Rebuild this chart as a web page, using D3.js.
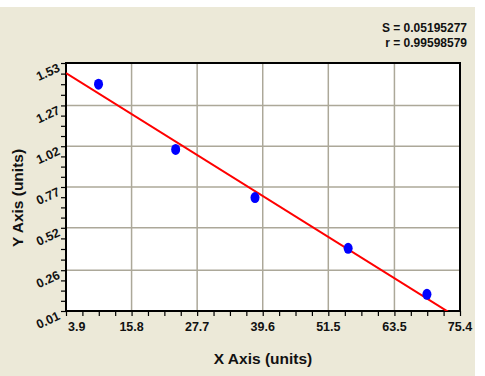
<!DOCTYPE html>
<html>
<head>
<meta charset="utf-8">
<script src="https://cdn.jsdelivr.net/npm/d3@7"></script>
<style>
  body { margin: 0; background: #fff; }
  svg { display: block; font-family: "Liberation Sans", Arial, sans-serif; }
</style>
</head>
<body>
<svg id="chart" width="485" height="376"></svg>
<script>
// values
const xValues = [9.8, 23.8, 38.2, 55.1, 69.4];
const yValues = [1.40, 1.00, 0.705, 0.394, 0.112];
const xTicks = [3.9, 15.8, 27.7, 39.6, 51.5, 63.5, 75.4];
const yTicks = [0.01, 0.26, 0.52, 0.77, 1.02, 1.27, 1.53];
const statLines = ['S = 0.05195277', 'r = 0.99598579'];

const width = 485;
const height = 376;
const plot = { left: 66, right: 460, top: 63, bottom: 311 };

const svg = d3.select('#chart');

// beige panel
svg.append('rect')
    .attr('x', 0).attr('y', 7)
    .attr('width', 475).attr('height', height - 7)
    .attr('fill', '#ece9d8');

const xScale = d3.scaleLinear().domain([3.9, 75.4]).range([plot.left, plot.right]);
const yScale = d3.scaleLinear().domain([0.01, 1.53]).range([plot.bottom, plot.top]);

svg.append('rect')
    .attr('x', plot.left).attr('y', plot.top)
    .attr('width', plot.right - plot.left).attr('height', plot.bottom - plot.top)
    .attr('fill', '#fff');

// gridlines
const grid = svg.append('g').attr('stroke', '#aca899').attr('stroke-width', 1.5);
grid.selectAll('line.v')
    .data(xTicks.slice(1, -1))
    .join('line')
    .attr('x1', (d) => xScale(d)).attr('x2', (d) => xScale(d))
    .attr('y1', plot.top).attr('y2', plot.bottom);
grid.selectAll('line.h')
    .data(yTicks.slice(1, -1))
    .join('line')
    .attr('y1', (d) => yScale(d)).attr('y2', (d) => yScale(d))
    .attr('x1', plot.left).attr('x2', plot.right);

// minor + major ticks (4 subdivisions between labels)
function subTicks(ticks) {
    const out = [];
    for (let i = 0; i < ticks.length - 1; i++) {
        for (let k = 0; k < 4; k++) out.push(ticks[i] + (ticks[i + 1] - ticks[i]) * k / 4);
    }
    out.push(ticks[ticks.length - 1]);
    return out;
}

const xAxis = svg.append('g')
    .attr('transform', `translate(0, ${plot.bottom})`)
    .call(d3.axisBottom(xScale).tickValues(subTicks(xTicks)).tickSize(5).tickFormat(''));
const yAxis = svg.append('g')
    .attr('transform', `translate(${plot.left}, 0)`)
    .call(d3.axisLeft(yScale).tickValues(subTicks(yTicks)).tickSize(5).tickFormat(''));
[xAxis, yAxis].forEach((g) => {
    g.select('.domain').remove();
    g.selectAll('line').attr('stroke', '#000').attr('stroke-width', 1.2);
});

// frame
svg.append('rect')
    .attr('x', plot.left).attr('y', plot.top)
    .attr('width', plot.right - plot.left).attr('height', plot.bottom - plot.top)
    .attr('fill', 'none').attr('stroke', '#000').attr('stroke-width', 2);

// tick labels
svg.append('g').selectAll('text')
    .data(xTicks)
    .join('text')
    .attr('x', (d, i) => xScale(d) + (i === 0 ? 2 : 0))
    .attr('y', plot.bottom + 20)
    .attr('text-anchor', (d, i) => (i === 0 ? 'start' : 'middle'))
    .attr('font-size', 12.5).attr('font-weight', 'bold').attr('fill', '#111')
    .text((d) => d.toFixed(1));

svg.append('g').selectAll('text')
    .data(yTicks)
    .join('text')
    .attr('transform', (d) => `translate(48, ${yScale(d) + 9}) rotate(-25)`)
    .attr('text-anchor', 'middle')
    .attr('dy', '0.35em')
    .attr('font-size', 12.5).attr('font-weight', 'bold').attr('fill', '#111')
    .text((d) => d.toFixed(2));

// regression line (least squares on the points)
const xMean = d3.mean(xValues);
const yMean = d3.mean(yValues);
const slope = d3.sum(xValues, (x, i) => (x - xMean) * (yValues[i] - yMean)) /
    d3.sum(xValues, (x) => (x - xMean) ** 2);
const intercept = yMean - slope * xMean;

svg.append('clipPath').attr('id', 'clip')
    .append('rect')
    .attr('x', plot.left).attr('y', plot.top)
    .attr('width', plot.right - plot.left).attr('height', plot.bottom - plot.top);

const xDom = xScale.domain();
svg.append('line')
    .attr('clip-path', 'url(#clip)')
    .attr('x1', xScale(xDom[0])).attr('y1', yScale(intercept + slope * xDom[0]))
    .attr('x2', xScale(xDom[1])).attr('y2', yScale(intercept + slope * xDom[1]))
    .attr('stroke', '#ff0000').attr('stroke-width', 2);

// points
svg.append('g').selectAll('ellipse')
    .data(xValues)
    .join('ellipse')
    .attr('cx', (d) => xScale(d))
    .attr('cy', (d, i) => yScale(yValues[i]))
    .attr('rx', 4.5).attr('ry', 5.5)
    .attr('fill', '#0000ff');

// stats
svg.append('g').selectAll('text')
    .data(statLines)
    .join('text')
    .attr('x', 467).attr('y', (d, i) => 32 + i * 15)
    .attr('text-anchor', 'end')
    .attr('font-size', 12).attr('font-weight', 'bold').attr('fill', '#111')
    .text((d) => d);

// axis titles
svg.append('text')
    .attr('x', (plot.left + plot.right) / 2).attr('y', 364)
    .attr('text-anchor', 'middle')
    .attr('font-size', 15.5).attr('font-weight', 'bold').attr('fill', '#111')
    .text('X Axis (units)');

svg.append('text')
    .attr('transform', `translate(23, ${(plot.top + plot.bottom) / 2 + 11}) rotate(-90)`)
    .attr('text-anchor', 'middle')
    .attr('font-size', 15.5).attr('font-weight', 'bold').attr('fill', '#111')
    .text('Y Axis (units)');
</script>
</body>
</html>
